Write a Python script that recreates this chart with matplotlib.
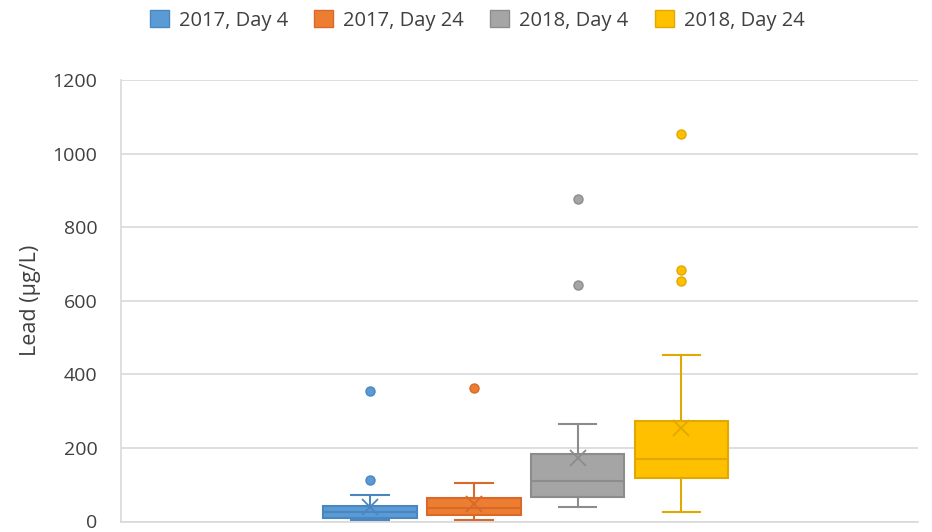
import numpy as np
import matplotlib
matplotlib.use("Agg")
import matplotlib.pyplot as plt
from matplotlib.patches import Patch

plt.rcParams['font.family'] = ['Open Sans', 'DejaVu Sans']

labels = ["2017, Day 4", "2017, Day 24", "2018, Day 4", "2018, Day 24"]
whislo = [5, 5, 39, 25]
q1 = [9, 17, 66, 119]
med = [25, 36, 110, 171]
q3 = [41, 63, 184, 272]
whishi = [71, 105, 264, 452]
means = [39, 48, 172, 254]
fliers = [[354, 112], [362], [642, 876], [1053, 683, 653]]

fills = ["#5B9BD5", "#ED7D31", "#A5A5A5", "#FFC000"]
edges = ["#4A86C0", "#D9692A", "#8C8C8C", "#E0A800"]

fig = plt.figure(figsize=(9.32, 5.32), dpi=100)
ax = fig.add_axes([121 / 932, 10.5 / 532, 797 / 932, 441.5 / 532])

positions = [1, 2, 3, 4]
for i in range(4):
    st = dict(whislo=whislo[i], q1=q1[i], med=med[i], q3=q3[i], whishi=whishi[i],
              mean=means[i], fliers=fliers[i], label=labels[i])
    c, e = fills[i], edges[i]
    ax.bxp([st], positions=[positions[i]], widths=0.9, patch_artist=True,
           showmeans=True, showfliers=True,
           boxprops=dict(facecolor=c, edgecolor=e, linewidth=1.5),
           medianprops=dict(color=e, linewidth=1.5),
           whiskerprops=dict(color=e, linewidth=1.5),
           capprops=dict(color=e, linewidth=1.5),
           capwidths=0.36,
           meanprops=dict(marker='x', markeredgecolor=e, markersize=12, markeredgewidth=1.3),
           flierprops=dict(marker='o', markerfacecolor=c, markeredgecolor=e, markersize=6.5))

ax.set_xlim(-1.40, 6.28)
ax.set_ylim(0, 1200)
ax.set_yticks(np.arange(0, 1201, 200))
ax.yaxis.grid(True, color="#D9D9D9", linewidth=1.2)
ax.set_axisbelow(True)
ax.set_xticks([])
for s in ["top", "right"]:
    ax.spines[s].set_visible(False)
for s in ["bottom", "left"]:
    ax.spines[s].set_color("#D9D9D9")
    ax.spines[s].set_linewidth(1.2)
ax.tick_params(axis='y', length=0, labelsize=14, labelcolor="#404040", pad=17)
ax.set_ylabel("Lead (μg/L)", fontsize=15.5, color="#404040", labelpad=8)

handles = [Patch(facecolor=fills[i], edgecolor=edges[i], label=labels[i]) for i in range(4)]
fig.legend(handles=handles, loc="center", bbox_to_anchor=(0.512, 0.962), ncol=4,
           frameon=False, fontsize=14.5, handlelength=0.95, handleheight=0.95,
           handletextpad=0.5, columnspacing=1.3, labelcolor="#404040")

fig.savefig("out.png", dpi=100)
